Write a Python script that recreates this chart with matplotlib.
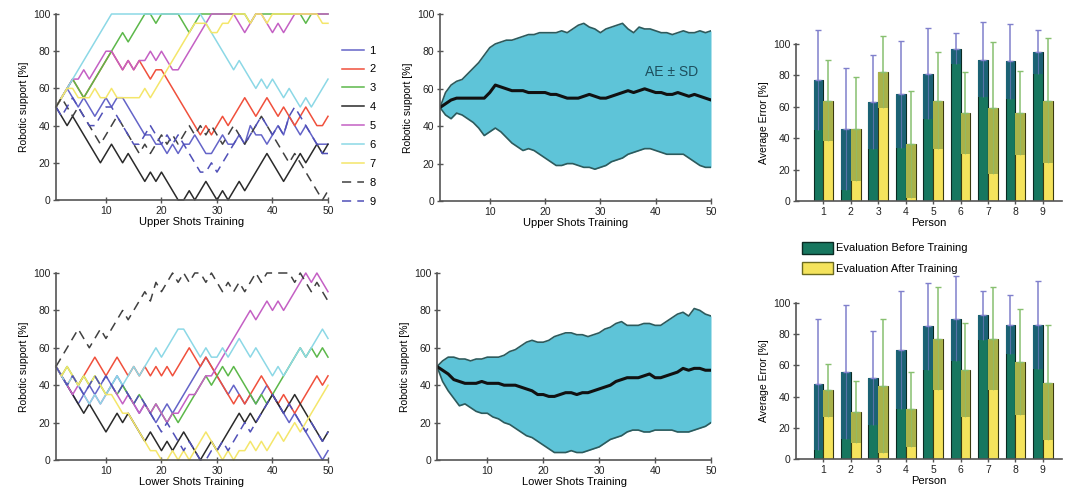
import matplotlib
matplotlib.use('Agg')
import matplotlib.pyplot as plt
from matplotlib.patches import Patch
from matplotlib.lines import Line2D
import numpy as np

plt.rcParams['font.family'] = ['Liberation Sans', 'DejaVu Sans']

# ── data ─────────────────────────────────────────────────────────────────────
SHOTS = list(range(1, 51))
PERSONS = [1, 2, 3, 4, 5, 6, 7, 8, 9]
SERIES_LABELS = ['1', '2', '3', '4', '5', '6', '7', '8', '9']

# upper shots, robotic support per person [%]
U1 = [50, 55, 60, 55, 50, 55, 50, 45, 50, 55, 50, 55, 55, 50, 45, 40, 35, 35, 30, 30,
      25, 30, 25, 30, 30, 35, 30, 25, 25, 30, 35, 30, 30, 35, 30, 40, 35, 35, 30, 35,
      40, 35, 45, 40, 35, 40, 35, 30, 30, 30]
U2 = [50, 55, 60, 65, 60, 55, 60, 65, 70, 75, 80, 75, 70, 75, 70, 75, 70, 65, 70, 70,
      65, 60, 55, 50, 45, 40, 35, 40, 35, 40, 45, 40, 45, 50, 55, 50, 45, 50, 55, 50,
      45, 50, 45, 40, 45, 50, 45, 40, 40, 45]
U3 = [50, 55, 60, 65, 60, 55, 60, 65, 70, 75, 80, 85, 90, 85, 90, 95, 100, 100, 95, 100,
      100, 100, 100, 95, 90, 95, 100, 100, 100, 100, 100, 100, 100, 100, 100, 95, 100, 100, 100, 100,
      100, 100, 100, 100, 100, 95, 100, 100, 100, 100]
U4 = [50, 45, 40, 45, 40, 35, 30, 25, 20, 25, 30, 25, 20, 25, 20, 15, 10, 15, 10, 15,
      10, 5, 0, 0, 5, 0, 5, 10, 5, 0, 5, 0, 5, 10, 5, 10, 15, 20, 25, 20,
      15, 10, 15, 20, 25, 20, 25, 30, 25, 30]
U5 = [50, 55, 60, 65, 65, 70, 65, 70, 75, 80, 80, 75, 70, 75, 70, 75, 75, 80, 75, 80,
      75, 70, 70, 75, 80, 85, 90, 95, 100, 100, 100, 100, 100, 95, 90, 95, 100, 100, 95, 90,
      95, 90, 95, 100, 100, 100, 100, 100, 100, 100]
U6 = [50, 55, 60, 65, 70, 75, 80, 85, 90, 95, 100, 100, 100, 100, 100, 100, 100, 100, 100, 100,
      100, 100, 100, 100, 100, 100, 100, 95, 90, 85, 80, 75, 70, 75, 70, 65, 60, 65, 60, 65,
      60, 55, 60, 55, 50, 55, 50, 55, 60, 65]
U7 = [50, 55, 60, 60, 55, 55, 55, 60, 55, 55, 60, 55, 55, 55, 55, 55, 60, 55, 60, 65,
      70, 75, 80, 85, 90, 95, 95, 95, 90, 90, 95, 95, 100, 100, 100, 95, 100, 100, 95, 100,
      100, 100, 100, 100, 100, 100, 100, 100, 95, 95]
U8 = [50, 55, 50, 45, 50, 45, 40, 35, 30, 35, 40, 45, 40, 35, 30, 25, 30, 25, 30, 35,
      30, 35, 30, 35, 40, 35, 40, 35, 40, 35, 30, 35, 40, 35, 30, 35, 40, 45, 40, 35,
      30, 25, 20, 25, 20, 15, 10, 5, 0, 5]
U9 = [50, 45, 50, 55, 50, 45, 40, 40, 45, 50, 50, 45, 40, 35, 30, 30, 35, 40, 35, 30,
      35, 30, 35, 30, 25, 20, 15, 15, 20, 15, 20, 25, 30, 35, 30, 35, 40, 45, 40, 35,
      40, 35, 45, 50, 45, 40, 35, 30, 25, 25]

# lower shots, robotic support per person [%]
L1 = [50, 45, 40, 35, 30, 35, 40, 35, 40, 45, 40, 45, 40, 35, 30, 25, 30, 25, 20, 25,
      30, 25, 30, 35, 40, 45, 50, 55, 50, 45, 40, 35, 40, 35, 30, 35, 30, 35, 40, 35,
      30, 25, 20, 25, 20, 15, 10, 5, 0, 5]
L2 = [50, 45, 40, 45, 40, 45, 50, 55, 50, 45, 50, 55, 50, 45, 50, 45, 50, 45, 50, 45,
      50, 45, 50, 55, 60, 55, 50, 55, 50, 45, 40, 35, 30, 35, 30, 35, 40, 45, 40, 35,
      30, 35, 30, 25, 30, 35, 40, 45, 40, 45]
L3 = [50, 45, 50, 45, 40, 45, 40, 45, 40, 35, 40, 35, 40, 35, 30, 35, 30, 25, 30, 25,
      20, 25, 20, 25, 30, 35, 40, 45, 40, 45, 50, 45, 50, 45, 40, 35, 30, 35, 30, 35,
      40, 45, 50, 55, 60, 55, 60, 55, 60, 55]
L4 = [50, 45, 40, 35, 30, 25, 30, 25, 20, 15, 20, 25, 20, 25, 20, 15, 10, 15, 10, 5,
      10, 5, 10, 15, 10, 5, 0, 5, 10, 5, 10, 15, 20, 25, 20, 25, 20, 25, 30, 35,
      30, 25, 30, 35, 30, 25, 20, 15, 10, 15]
L5 = [50, 45, 40, 35, 40, 35, 30, 35, 30, 35, 40, 35, 30, 35, 30, 25, 30, 25, 30, 25,
      20, 25, 25, 30, 35, 35, 40, 45, 45, 50, 55, 60, 65, 70, 75, 80, 75, 80, 85, 80,
      85, 80, 85, 90, 95, 100, 95, 100, 95, 90]
L6 = [50, 45, 40, 45, 40, 35, 30, 35, 30, 35, 40, 45, 40, 45, 50, 45, 50, 55, 60, 55,
      60, 65, 70, 70, 65, 60, 55, 60, 55, 55, 60, 55, 60, 65, 60, 55, 60, 55, 50, 45,
      50, 45, 50, 55, 60, 55, 60, 65, 70, 65]
L7 = [50, 45, 50, 45, 40, 45, 40, 45, 40, 35, 35, 30, 25, 25, 20, 15, 10, 5, 5, 0,
      0, 5, 0, 5, 0, 5, 10, 15, 10, 5, 0, 5, 0, 5, 5, 10, 5, 10, 5, 10,
      15, 10, 15, 20, 15, 20, 25, 30, 35, 40]
L8 = [50, 55, 60, 65, 70, 65, 60, 65, 70, 65, 70, 75, 80, 75, 80, 85, 90, 85, 95, 90,
      95, 100, 95, 100, 95, 100, 100, 95, 100, 95, 90, 95, 90, 95, 90, 95, 100, 95, 100, 100,
      100, 100, 100, 95, 100, 95, 90, 95, 90, 85]
L9 = [50, 45, 40, 45, 40, 35, 40, 45, 40, 45, 40, 35, 40, 35, 30, 35, 30, 25, 20, 15,
      20, 15, 10, 5, 10, 5, 0, 0, 5, 5, 10, 5, 10, 15, 20, 15, 20, 25, 30, 35,
      30, 25, 30, 25, 20, 15, 20, 15, 10, 15]

# average error +/- SD bands
UP_MEAN = [50, 52, 54, 55, 55, 55, 55, 55, 55, 58, 62, 61, 60, 59, 59, 59, 58, 58, 58, 58,
           57, 57, 56, 55, 55, 55, 56, 57, 56, 55, 55, 56, 57, 58, 59, 58, 59, 60, 59, 58,
           58, 57, 57, 58, 57, 56, 57, 56, 55, 54]
UP_HIGH = [50, 58, 62, 64, 65, 68, 71, 74, 78, 82, 84, 85, 86, 86, 87, 88, 89, 89, 90, 90,
           90, 90, 91, 90, 92, 94, 95, 93, 92, 90, 92, 93, 94, 95, 92, 90, 93, 92, 92, 91,
           90, 90, 89, 90, 91, 90, 90, 91, 90, 91]
UP_LOW = [50, 46, 44, 47, 46, 44, 42, 39, 35, 37, 39, 37, 34, 31, 29, 27, 28, 27, 25, 23,
          21, 19, 19, 20, 20, 19, 18, 18, 17, 18, 19, 21, 22, 23, 25, 26, 27, 28, 28, 27,
          26, 25, 25, 25, 25, 23, 21, 19, 18, 18]
LO_MEAN = [50, 48, 46, 43, 42, 41, 41, 41, 42, 41, 41, 41, 40, 40, 40, 39, 38, 37, 35, 35,
           34, 34, 35, 36, 36, 35, 36, 36, 37, 38, 39, 40, 42, 43, 44, 44, 44, 45, 46, 44,
           44, 45, 46, 47, 49, 48, 49, 49, 48, 48]
LO_HIGH = [50, 53, 55, 55, 54, 54, 53, 54, 54, 55, 55, 55, 56, 58, 59, 61, 63, 64, 63, 63,
           64, 66, 67, 68, 68, 67, 67, 66, 67, 68, 70, 71, 73, 74, 72, 72, 72, 73, 73, 72,
           72, 74, 76, 78, 79, 77, 81, 80, 78, 77]
LO_LOW = [50, 42, 37, 33, 29, 30, 28, 26, 25, 25, 23, 22, 20, 19, 17, 15, 13, 12, 10, 8,
          6, 4, 4, 4, 5, 4, 4, 5, 6, 7, 9, 11, 12, 13, 15, 16, 16, 15, 15, 16,
          16, 16, 16, 15, 15, 15, 16, 17, 18, 20]

# average error [%] per person: before / after training, mean and SD
UP_BEFORE = [77, 46, 63, 68, 81, 97, 90, 89, 95]
UP_BEFORE_SD = [32, 39, 30, 34, 29, 10, 24, 24, 14]
UP_AFTER = [64, 46, 82, 36, 64, 56, 59, 56, 64]
UP_AFTER_SD = [26, 33, 23, 34, 31, 26, 42, 27, 40]
LO_BEFORE = [48, 56, 52, 70, 85, 90, 92, 86, 86]
LO_BEFORE_SD = [42, 43, 30, 38, 28, 27, 16, 19, 28]
LO_AFTER = [44, 30, 47, 32, 77, 57, 77, 62, 49]
LO_AFTER_SD = [17, 20, 43, 24, 33, 30, 33, 34, 37]

# ── style ────────────────────────────────────────────────────────────────────
LINE_COLORS = ['#6464c8', '#f0503c', '#5cb84a', '#2a2a2a', '#c460c4',
               '#8cd8e6', '#f4e66a', '#404040', '#5050b8']
LINE_STYLES = ['-', '-', '-', '-', '-', '-', '-', (0, (6, 4)), (0, (6, 4))]
AXIS_C = '#555555'
BAND_C = '#5ec4d8'
BAND_EDGE = '#2d5a5c'
TEAL = '#17775f'
TEAL_TOP = '#1b6274'
YEL = '#f4e35c'
OLIVE = '#a9b24a'
ERR_B = '#8080cc'
ERR_A = '#88c070'

W, H = 1066, 501
fig = plt.figure(figsize=(W / 100, H / 100), dpi=100, facecolor='white')


def px_axes(left, top, right, bottom):
    return fig.add_axes([left / W, 1 - bottom / H, (right - left) / W, (bottom - top) / H])


def style_axes(ax):
    for s in ('top', 'right'):
        ax.spines[s].set_visible(False)
    for s in ('left', 'bottom'):
        ax.spines[s].set_color(AXIS_C)
        ax.spines[s].set_linewidth(1.2)
    ax.tick_params(direction='inout', length=4, width=1, colors=AXIS_C,
                   labelcolor='#222222', labelsize=7.5, pad=2)


def line_panel(ax, series, xlabel):
    for ys, c, ls in zip(series, LINE_COLORS, LINE_STYLES):
        ax.plot(SHOTS, ys, color=c, linestyle=ls, linewidth=1.1, clip_on=False)
    ax.set_xlim(1, 50)
    ax.set_ylim(0, 100)
    ax.set_xticks([10, 20, 30, 40, 50])
    ax.set_yticks([0, 20, 40, 60, 80, 100])
    style_axes(ax)
    ax.set_xlabel(xlabel, fontsize=8, labelpad=1)
    ax.set_ylabel('Robotic support [%]', fontsize=7.5, labelpad=3)


def band_panel(ax, mean, high, low, xlabel):
    ax.fill_between(SHOTS, low, high, color=BAND_C, linewidth=0)
    ax.plot(SHOTS, high, color=BAND_EDGE, linewidth=1.2)
    ax.plot(SHOTS, low, color=BAND_EDGE, linewidth=1.2)
    ax.plot(SHOTS, mean, color='#111111', linewidth=2.2)
    ax.set_xlim(1, 50)
    ax.set_ylim(0, 100)
    ax.set_xticks([10, 20, 30, 40, 50])
    ax.set_yticks([0, 20, 40, 60, 80, 100])
    style_axes(ax)
    ax.set_xlabel(xlabel, fontsize=8, labelpad=1)
    ax.set_ylabel('Robotic support [%]', fontsize=7.5, labelpad=3)


def bar_panel(ax, before, before_sd, after, after_sd):
    xs = np.array(PERSONS, dtype=float)
    bw = 0.36
    xb = xs - bw / 2
    xa = xs + bw / 2
    b = np.array(before)
    bs = np.array(before_sd)
    a = np.array(after)
    as_ = np.array(after_sd)
    ax.bar(xb, b, bw, color=TEAL, edgecolor='#0a2a22', linewidth=0.8, zorder=2)
    ax.bar(xb, bs, bw, bottom=b - bs, color=TEAL_TOP, linewidth=0, zorder=3)
    ax.bar(xa, a, bw, color=YEL, edgecolor='#3a3a10', linewidth=0.8, zorder=2)
    ax.bar(xa, as_, bw, bottom=a - as_, color=OLIVE, linewidth=0, zorder=3)
    ax.errorbar(xb, b, yerr=[np.zeros_like(bs), bs], fmt='none', ecolor=ERR_B,
                elinewidth=1.1, capsize=2, capthick=1, zorder=4, clip_on=False)
    ax.errorbar(xa, a, yerr=[np.zeros_like(as_), as_], fmt='none', ecolor=ERR_A,
                elinewidth=1.1, capsize=2, capthick=1, zorder=4, clip_on=False)
    ax.vlines(xb, b - bs, b, color=ERR_B, linewidth=0.8, alpha=0.6, zorder=4)
    ax.vlines(xa, a - as_, a, color=ERR_A, linewidth=0.8, alpha=0.6, zorder=4)
    ax.set_xlim(0, 9.7)
    ax.set_ylim(0, 100)
    ax.set_xticks(PERSONS)
    ax.set_yticks([0, 20, 40, 60, 80, 100])
    style_axes(ax)
    for coll in ax.collections:
        coll.set_clip_on(False)
    ax.set_xlabel('Person', fontsize=8, labelpad=1)
    ax.set_ylabel('Average Error [%]', fontsize=7.5, labelpad=3)


ax_tl = px_axes(56, 14, 328, 200)
line_panel(ax_tl, [U1, U2, U3, U4, U5, U6, U7, U8, U9], 'Upper Shots Training')
ax_bl = px_axes(56, 273, 328, 460)
line_panel(ax_bl, [L1, L2, L3, L4, L5, L6, L7, L8, L9], 'Lower Shots Training')

handles = [Line2D([], [], color=c, linestyle=ls, linewidth=1.1)
           for c, ls in zip(LINE_COLORS, LINE_STYLES)]
fig.legend(handles, SERIES_LABELS, loc='upper left',
           bbox_to_anchor=(336 / W, 1 - 40 / H), frameon=False, fontsize=8,
           handlelength=2.0, handletextpad=0.5, labelspacing=0.8,
           borderpad=0)

ax_tm = px_axes(440, 14, 711, 201)
band_panel(ax_tm, UP_MEAN, UP_HIGH, UP_LOW, 'Upper Shots Training')
ax_tm.text(38, 67, 'AE \u00b1 SD', color='#1d4f5e', fontsize=10)
ax_bm = px_axes(437, 273, 711, 460)
band_panel(ax_bm, LO_MEAN, LO_HIGH, LO_LOW, 'Lower Shots Training')

ax_tr = px_axes(796, 44, 1062, 201)
bar_panel(ax_tr, UP_BEFORE, UP_BEFORE_SD, UP_AFTER, UP_AFTER_SD)
ax_br = px_axes(796, 303, 1062, 459)
bar_panel(ax_br, LO_BEFORE, LO_BEFORE_SD, LO_AFTER, LO_AFTER_SD)

bar_handles = [Patch(facecolor=TEAL, edgecolor='#0a2a22'),
               Patch(facecolor=YEL, edgecolor='#6a6a20')]
fig.legend(bar_handles, ['Evaluation Before Training', 'Evaluation After Training'],
           loc='upper left', bbox_to_anchor=(796 / W, 1 - 236 / H), frameon=False,
           fontsize=8, handlelength=2.8, handleheight=1.3, handletextpad=0.3,
           labelspacing=0.75, borderpad=0)

fig.savefig('out.png', dpi=100, facecolor='white')
